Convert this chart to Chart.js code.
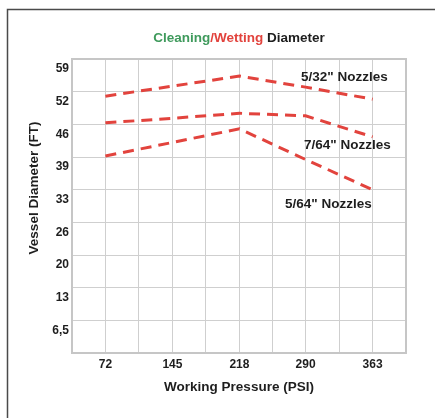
<!DOCTYPE html>
<html>
<head>
<meta charset="utf-8">
<script src="https://cdn.jsdelivr.net/npm/chart.js@4"></script>
<style>
html,body{margin:0;padding:0;background:#fff;}
#wrap{width:435px;height:418px;position:relative;}
</style>
</head>
<body>
<div id="wrap"><canvas id="c" width="435" height="418"></canvas></div>
<script>
const pressures = [72, 145, 218, 290, 363];
const nozzle532 = [51.1, 53.1, 55.1, 52.9, 50.5];
const nozzle764 = [45.8, 46.7, 47.7, 47.2, 43.0];
const nozzle564 = [39.2, 41.9, 44.6, 38.5, 32.5];
const seriesNames = ['5/32" Nozzles', '7/64" Nozzles', '5/64" Nozzles'];
const yTickValues = [0, 6.5, 13, 19.5, 26, 32.5, 39, 45.5, 52, 58.5];
const yTickLabels = ['', '6,5', '13', '20', '26', '33', '39', '46', '52', '59'];

const FONT = '"Liberation Sans", Arial, Helvetica, sans-serif';
const RED = '#e2433d';

// x grid: pressures plus midpoints and half-step edges
const halfStep = (pressures[pressures.length - 1] - pressures[0]) / (pressures.length - 1) / 2;
const xGrid = [];
xGrid.push(pressures[0] - halfStep);
pressures.forEach((p, i) => {
  xGrid.push(p);
  if (i < pressures.length - 1) xGrid.push((p + pressures[i + 1]) / 2);
});
xGrid.push(pressures[pressures.length - 1] + halfStep);

function mk(vals, name) {
  return {
    label: name,
    data: pressures.map((p, i) => ({x: p, y: vals[i]})),
    borderColor: RED,
    borderWidth: 3,
    borderDash: [11, 7],
    pointRadius: 0,
    tension: 0,
    fill: false
  };
}

const decor = {
  id: 'decor',
  afterDraw(chart) {
    const ctx = chart.ctx;
    ctx.save();
    // outer frame
    ctx.strokeStyle = '#4a4a4a';
    ctx.lineWidth = 1.5;
    ctx.beginPath();
    ctx.moveTo(7.5, 418);
    ctx.lineTo(7.5, 9.5);
    ctx.lineTo(435, 9.5);
    ctx.stroke();

    // title
    ctx.font = 'bold 13.5px ' + FONT;
    ctx.textBaseline = 'middle';
    const parts = [['Cleaning', '#3f9a5c'], ['/Wetting', RED], [' Diameter', '#1e1e1e']];
    const total = parts.reduce((s, p) => s + ctx.measureText(p[0]).width, 0);
    const ca = chart.chartArea;
    let x = (ca.left + ca.right) / 2 - total / 2;
    parts.forEach(p => {
      ctx.fillStyle = p[1];
      ctx.textAlign = 'left';
      ctx.fillText(p[0], x, 38);
      x += ctx.measureText(p[0]).width;
    });

    // y axis title
    ctx.save();
    ctx.translate(34.5, 188);
    ctx.rotate(-Math.PI / 2);
    ctx.font = 'bold 13.5px ' + FONT;
    ctx.fillStyle = '#1e1e1e';
    ctx.textAlign = 'center';
    ctx.textBaseline = 'middle';
    ctx.fillText('Vessel Diameter (FT)', 0, 0);
    ctx.restore();

    // series labels
    ctx.font = 'bold 13.5px ' + FONT;
    ctx.fillStyle = '#1e1e1e';
    ctx.textAlign = 'left';
    ctx.textBaseline = 'middle';
    const pos = [[301, 77], [304, 145], [285, 204]];
    seriesNames.forEach((n, i) => ctx.fillText(n, pos[i][0], pos[i][1]));
    ctx.restore();
  }
};

new Chart(document.getElementById('c'), {
  type: 'line',
  data: {
    datasets: [mk(nozzle532, seriesNames[0]), mk(nozzle764, seriesNames[1]), mk(nozzle564, seriesNames[2])]
  },
  options: {
    responsive: false,
    animation: false,
    devicePixelRatio: 1,
    layout: {padding: {top: 59, right: 29, left: 0, bottom: 0}},
    plugins: {legend: {display: false}, tooltip: {enabled: false}, title: {display: false}},
    scales: {
      x: {
        type: 'linear',
        min: xGrid[0],
        max: xGrid[xGrid.length - 1],
        afterBuildTicks(scale) { scale.ticks = xGrid.map(v => ({value: v})); },
        afterFit(scale) { scale.height = 65; },
        grid: {color: '#cfcfcf', lineWidth: 1, drawTicks: false},
        border: {display: false},
        ticks: {
          padding: 4,
          autoSkip: false,
          maxRotation: 0,
          color: '#1e1e1e',
          font: {family: FONT, size: 12, weight: 'bold'},
          callback(v) { return pressures.includes(v) ? String(v) : ''; }
        },
        title: {
          display: true,
          text: 'Working Pressure (PSI)',
          color: '#1e1e1e',
          font: {family: FONT, size: 13.5, weight: 'bold'},
          padding: {top: 0, bottom: 23}
        }
      },
      y: {
        type: 'linear',
        min: yTickValues[0],
        max: yTickValues[yTickValues.length - 1],
        afterBuildTicks(scale) { scale.ticks = yTickValues.map(v => ({value: v})); },
        afterFit(scale) { scale.width = 72; },
        grid: {color: '#cfcfcf', lineWidth: 1, drawTicks: false},
        border: {display: false},
        ticks: {
          padding: 3,
          labelOffset: 10,
          autoSkip: false,
          color: '#1e1e1e',
          font: {family: FONT, size: 12, weight: 'bold'},
          callback(v) { const i = yTickValues.indexOf(v); return i >= 0 ? yTickLabels[i] : ''; }
        }
      }
    }
  },
  plugins: [decor, {
    id: 'plotBorder',
    beforeDatasetsDraw(chart) {
      const {ctx, chartArea: a} = chart;
      ctx.save();
      ctx.strokeStyle = '#c6c6c6';
      ctx.lineWidth = 2;
      ctx.strokeRect(a.left, a.top, a.right - a.left, a.bottom - a.top);
      ctx.restore();
    }
  }]
});
</script>
</body>
</html>
